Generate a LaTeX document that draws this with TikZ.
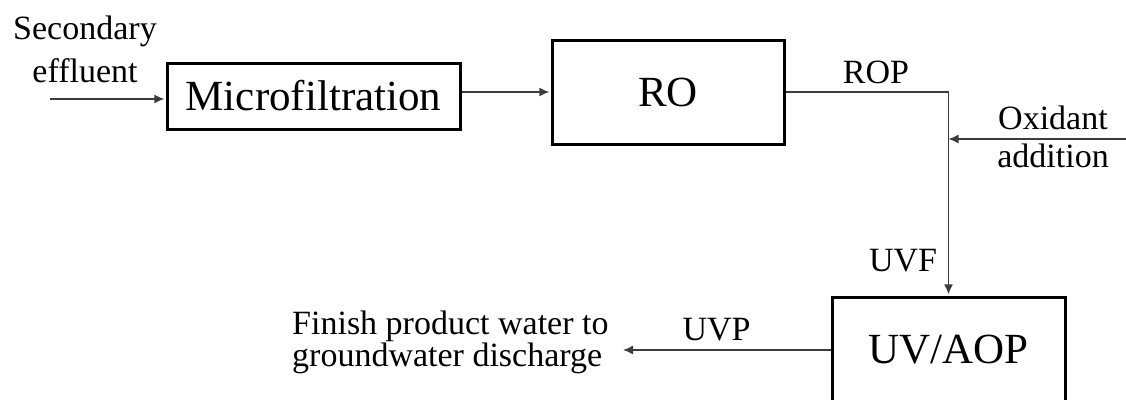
\documentclass[tikz,border=0pt]{standalone}
\usepackage{fontspec}
\setmainfont{Liberation Serif}
\usetikzlibrary{arrows.meta}
\definecolor{linec}{HTML}{3C3C3C}
\begin{document}
\begin{tikzpicture}[x=1pt,y=-1pt,
  box/.style={draw=black, line width=3pt, rectangle, inner sep=0pt,
    font=\fontsize{43}{50}\selectfont},
  lbl/.style={inner sep=0pt, font=\fontsize{34}{40}\selectfont},
  conn/.style={draw=linec, line width=1.4pt},
  arr/.style={conn, -{Latex[length=10pt,width=9pt]}, shorten >=1.2pt}]
\useasboundingbox (0,0) rectangle (1126,399);
\clip (0,0) rectangle (1126,399);
% boxes
\node[box, minimum width=293pt, minimum height=66pt] (mf) at (313.5,96) {Microfiltration};
\node[box, minimum width=232pt, minimum height=104pt] (ro) at (668,92) {RO};
\node[box, minimum width=233pt, minimum height=106pt] (uv) at (948.5,350) {UV/AOP};
% labels
\node[lbl, align=center, font=\fontsize{34}{43}\selectfont] (sec) at (85,49) {Secondary\\effluent};
\node[lbl, anchor=base] (rop) at (876,83) {ROP};
\node[lbl, align=center, font=\fontsize{34}{38}\selectfont] (oxl) at (1053,137) {Oxidant\\addition};
\node[lbl, anchor=base] (uvf) at (903,271) {UVF};
\node[lbl, anchor=base] (uvp) at (716.5,340) {UVP};
\node[lbl, align=left, anchor=west, font=\fontsize{34}{30}\selectfont] (fin) at (292,342) {Finish product water to\\groundwater discharge};
% free ends
\coordinate (in) at (50,99);
\coordinate (ox) at (1126,139);
\coordinate (out) at (623,350);
% connectors
\draw[arr] (in) -- (in -| mf.west);
\draw[arr] (ro.west -| mf.east) -- (ro.west);
\draw[arr] (ro.east) -- (ro.east -| uv.north) -- (uv.north);
\draw[arr, shorten >=0pt] (ox) -- (ox -| uv.north);
\draw[arr, shorten >=0pt] (uv.west) -- (out);
\end{tikzpicture}
\end{document}
